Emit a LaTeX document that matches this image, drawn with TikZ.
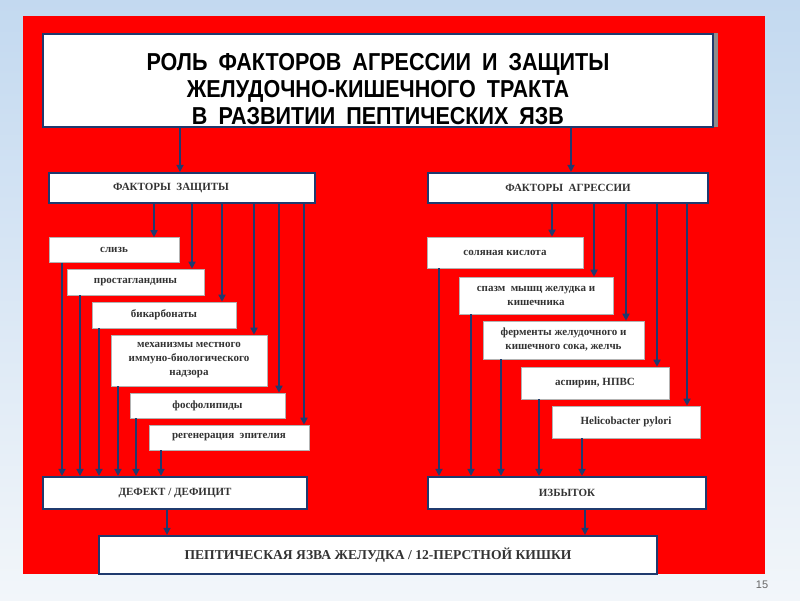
\documentclass[tikz,border=0pt]{standalone}
\usepackage{fontspec}
\setmainfont{Liberation Serif}
\newfontfamily\titlefont[FakeStretch=0.88]{Liberation Sans}
\newfontfamily\numfont{Liberation Sans}
\usetikzlibrary{arrows.meta}
\definecolor{slidered}{HTML}{FF0000}
\definecolor{navy}{HTML}{1F3A6E}
\definecolor{bgtop}{HTML}{C3D9F0}
\definecolor{bgbot}{HTML}{F2F6FA}
\definecolor{txtgray}{HTML}{333333}
\definecolor{blobblue}{HTML}{3C7AB4}
\newcommand\tgap{\hspace{11pt}}
\begin{document}
\begin{tikzpicture}[x=1pt,y=-1pt,
  bigbox/.style={draw=navy, line width=2.2pt, fill=white, inner sep=0pt, align=center,
    font=\bfseries\fontsize{11}{14}\selectfont, text=txtgray},
  smallbox/.style={draw=black!30, line width=0.6pt, fill=white, inner sep=0pt, align=center,
    font=\bfseries\fontsize{11}{14}\selectfont, text=txtgray},
  titlebox/.style={draw=navy, line width=2.6pt, fill=white, inner sep=0pt, align=center,
    font=\titlefont\bfseries\fontsize{24.5}{27}\selectfont, text=black},
  arr/.style={draw=navy, line width=1.6pt, -{Triangle[length=7pt,width=7pt]}},
]
\useasboundingbox (0,0) rectangle (800,600);
% background
\shade[top color=bgtop, bottom color=bgbot] (0,0) rectangle (800,600);
\fill[blobblue] (572,17) arc[start angle=180, end angle=0, x radius=6, y radius=8] -- cycle;
\fill[slidered] (22.5,16) rectangle (765,574);
\fill[black!45] (712,33) rectangle (718,127);
\node[font=\numfont\fontsize{11}{11}\selectfont, text=black!60] (pg) at (762,585) {15};

% title
\node[titlebox, minimum width=670pt, minimum height=93pt] (title) at (378,80.5)
  {\rule{0pt}{34pt}РОЛЬ\tgap ФАКТОРОВ\tgap АГРЕССИИ\tgap И\tgap ЗАЩИТЫ\\
   ЖЕЛУДОЧНО-КИШЕЧНОГО\tgap ТРАКТА\\
   В\tgap РАЗВИТИИ\tgap ПЕПТИЧЕСКИХ\tgap ЯЗВ};

% factor boxes
\node[bigbox, minimum width=266pt, minimum height=30pt] (fz) at (182,188) {ФАКТОРЫ\ \ ЗАЩИТЫ\hspace*{22pt}};
\node[bigbox, minimum width=280pt, minimum height=30pt] (fa) at (568,188) {ФАКТОРЫ\ \ АГРЕССИИ};

% left column
\node[smallbox, minimum width=130pt, minimum height=25pt] (L1) at (114,250) {слизь};
\node[smallbox, minimum width=137pt, minimum height=26pt] (L2) at (135.5,282) {простагландины};
\node[smallbox, minimum width=144pt, minimum height=26pt] (L3) at (164,315) {бикарбонаты};
\node[smallbox, minimum width=156pt, minimum height=51pt] (L4) at (189,360.5) {механизмы местного\\иммуно-биологического\\надзора};
\node[smallbox, minimum width=155pt, minimum height=25pt] (L5) at (207.5,405.5) {фосфолипиды};
\node[smallbox, minimum width=160pt, minimum height=25pt] (L6) at (229,437.5) {регенерация\ \ эпителия};

% right column
\node[smallbox, minimum width=156pt, minimum height=31pt] (R1) at (505,252.5) {соляная кислота};
\node[smallbox, minimum width=154pt, minimum height=37pt] (R2) at (536,295.5) {спазм\ \ мышц желудка и\\кишечника};
\node[smallbox, minimum width=161pt, minimum height=38pt] (R3) at (563.5,340) {ферменты желудочного и\\кишечного сока, желчь};
\node[smallbox, minimum width=148pt, minimum height=32pt] (R4) at (595,383) {аспирин, НПВС};
\node[smallbox, minimum width=148pt, minimum height=32pt] (R5) at (626,422) {Helicobacter pylori};

% result boxes
\node[bigbox, minimum width=264pt, minimum height=32pt] (def) at (175,493) {ДЕФЕКТ / ДЕФИЦИТ};
\node[bigbox, minimum width=278pt, minimum height=32pt] (izb) at (567,493) {ИЗБЫТОК};
\node[bigbox, minimum width=558pt, minimum height=38pt, font=\bfseries\fontsize{13.6}{15}\selectfont] (pep) at (378,555) {ПЕПТИЧЕСКАЯ ЯЗВА ЖЕЛУДКА / 12-ПЕРСТНОЙ КИШКИ};

% arrows from title
\draw[arr] (title.south -| 180,0) -- (fz.north -| 180,0);
\draw[arr] (title.south -| 571,0) -- (fa.north -| 571,0);

% arrows from factor boxes
\draw[arr] (fz.south -| 154,0) -- (L1.north -| 154,0);
\draw[arr] (fz.south -| 192,0) -- (L2.north -| 192,0);
\draw[arr] (fz.south -| 222,0) -- (L3.north -| 222,0);
\draw[arr] (fz.south -| 254,0) -- (L4.north -| 254,0);
\draw[arr] (fz.south -| 279,0) -- (L5.north -| 279,0);
\draw[arr] (fz.south -| 304,0) -- (L6.north -| 304,0);

\draw[arr] (fa.south -| 552,0) -- (R1.north -| 552,0);
\draw[arr] (fa.south -| 594,0) -- (R2.north -| 594,0);
\draw[arr] (fa.south -| 626,0) -- (R3.north -| 626,0);
\draw[arr] (fa.south -| 657,0) -- (R4.north -| 657,0);
\draw[arr] (fa.south -| 687,0) -- (R5.north -| 687,0);

% arrows into result boxes
\draw[arr] (L1.south -| 62,0) -- (def.north -| 62,0);
\draw[arr] (L2.south -| 80,0) -- (def.north -| 80,0);
\draw[arr] (L3.south -| 99,0) -- (def.north -| 99,0);
\draw[arr] (L4.south -| 118,0) -- (def.north -| 118,0);
\draw[arr] (L5.south -| 136,0) -- (def.north -| 136,0);
\draw[arr] (L6.south -| 161,0) -- (def.north -| 161,0);

\draw[arr] (R1.south -| 439,0) -- (izb.north -| 439,0);
\draw[arr] (R2.south -| 471,0) -- (izb.north -| 471,0);
\draw[arr] (R3.south -| 501,0) -- (izb.north -| 501,0);
\draw[arr] (R4.south -| 539,0) -- (izb.north -| 539,0);
\draw[arr] (R5.south -| 582,0) -- (izb.north -| 582,0);

% to final box
\draw[arr] (def.south -| 167,0) -- (pep.north -| 167,0);
\draw[arr] (izb.south -| 585,0) -- (pep.north -| 585,0);
\end{tikzpicture}
\end{document}
